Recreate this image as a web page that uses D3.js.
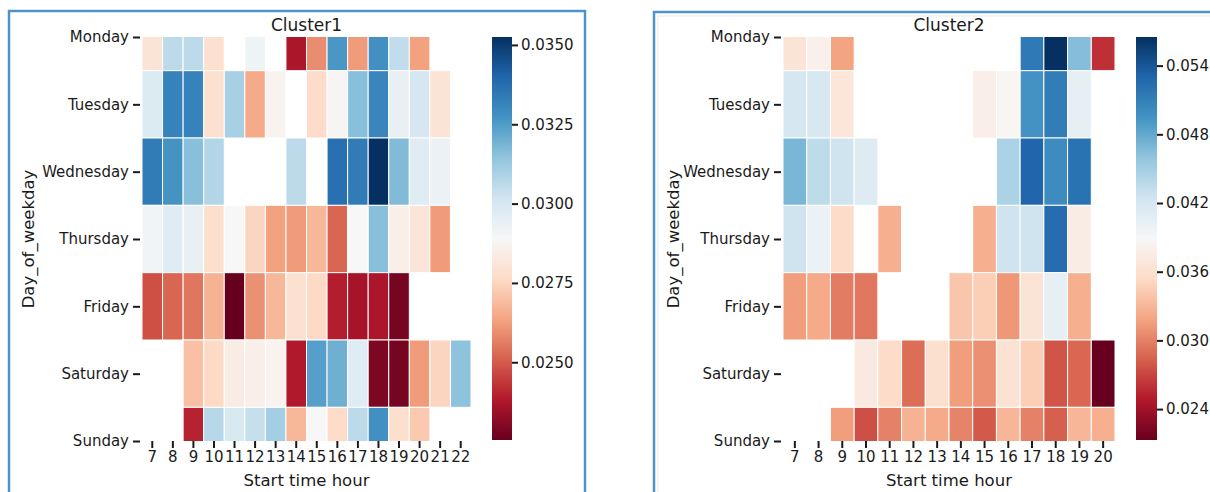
<!DOCTYPE html>
<html>
<head>
<meta charset="utf-8">
<script src="https://cdn.jsdelivr.net/npm/d3@7"></script>
<style>
  body { margin: 0; background: #fff; }
  text { font-family: "DejaVu Sans", sans-serif; fill: #1a1a1a; }
</style>
</head>
<body>
<script>
// heatmap data. null = no trips in that slot
var days = ["Monday", "Tuesday", "Wednesday", "Thursday", "Friday", "Saturday", "Sunday"];

var hours1 = [7, 8, 9, 10, 11, 12, 13, 14, 15, 16, 17, 18, 19, 20, 21, 22];
var cluster1Values = [
  [0.0280, 0.0306, 0.0306, 0.0279, null, 0.0292, null, 0.0237, 0.0259, 0.0326, 0.0262, 0.0328, 0.0305, 0.0263, null, null],
  [0.0298, 0.0332, 0.0332, 0.0279, 0.0310, 0.0265, 0.0287, null, 0.0277, 0.0288, 0.0316, 0.0331, 0.0294, 0.0300, 0.0280, null],
  [0.0334, 0.0327, 0.0316, 0.0308, null, null, null, 0.0306, null, 0.0337, 0.0334, 0.03525, 0.0317, 0.0297, 0.0293, null],
  [0.0291, 0.0297, 0.0294, 0.0278, 0.0289, 0.0275, 0.0263, 0.0262, 0.0268, 0.0252, 0.0289, 0.0316, 0.0285, 0.0281, 0.0262, null],
  [0.0248, 0.0252, 0.0255, 0.0267, 0.02255, 0.0260, 0.0268, 0.0279, 0.0276, 0.0239, 0.0236, 0.0237, 0.0228, null, null, null],
  [null, null, 0.0270, 0.0276, 0.0284, 0.0285, 0.0287, 0.0238, 0.0324, 0.0320, 0.0297, 0.0229, 0.0228, 0.0262, 0.0275, 0.0315],
  [null, null, 0.0240, 0.0307, 0.0299, 0.0304, 0.0311, 0.0268, 0.0289, 0.0277, 0.0306, 0.0328, 0.0278, 0.0272, null, null]
];
var cluster1Ticks = [0.0250, 0.0275, 0.0300, 0.0325, 0.0350];

var hours2 = [7, 8, 9, 10, 11, 12, 13, 14, 15, 16, 17, 18, 19, 20];
var cluster2Values = [
  [0.0365, 0.0380, 0.0318, null, null, null, null, null, null, null, 0.0515, 0.0565, 0.0465, 0.0260],
  [0.0420, 0.0418, 0.0367, null, null, null, null, null, 0.0378, 0.0386, 0.0495, 0.0512, 0.0405, null],
  [0.0470, 0.0435, 0.0425, 0.0412, null, null, null, null, null, 0.0445, 0.0530, 0.0500, 0.0520, null],
  [0.0425, 0.0400, 0.0355, null, 0.0325, null, null, null, 0.0325, 0.0425, 0.0425, 0.0525, 0.0375, null],
  [0.0315, 0.0322, 0.0298, 0.0295, null, null, null, 0.0340, 0.0345, 0.0312, 0.0365, 0.0405, 0.0325, null],
  [null, null, null, 0.0372, 0.0355, 0.0290, 0.0360, 0.0315, 0.0308, 0.0362, 0.0345, 0.0278, 0.0287, 0.0213],
  [null, null, 0.0315, 0.0275, 0.0300, 0.0328, 0.0322, 0.0302, 0.0280, 0.0330, 0.0300, 0.0283, 0.0330, 0.0325]
];
var cluster2Ticks = [0.024, 0.030, 0.036, 0.042, 0.048, 0.054];

// matplotlib's RdBu is piecewise linear between the colorbrewer stops
// (d3.interpolateRdBu smooths them, which looks paler)
var rdbu = ["#67001f", "#b2182b", "#d6604d", "#f4a582", "#fddbc7", "#f7f7f7",
            "#d1e5f0", "#92c5de", "#4393c3", "#2166ac", "#053061"];
var rdbuT = d3.scaleLinear()
    .domain(d3.range(rdbu.length).map(function(i) { return i / (rdbu.length - 1); }))
    .range(rdbu)
    .interpolate(d3.interpolateRgb);

var svg = d3.select("body").append("svg")
    .attr("width", 1210)
    .attr("height", 492);

// the screenshot frames around each figure
svg.append("rect")
    .attr("x", 9).attr("y", 11).attr("width", 576).attr("height", 500)
    .attr("fill", "none").attr("stroke", "#4f92cc").attr("stroke-width", 2.5);
svg.append("rect")
    .attr("x", 654).attr("y", 12).attr("width", 600).attr("height", 500)
    .attr("fill", "none").attr("stroke", "#4f92cc").attr("stroke-width", 2.5);
svg.append("rect")
    .attr("x", 658).attr("y", 16).attr("width", 600).attr("height", 500)
    .attr("fill", "none").attr("stroke", "#e4ecf3").attr("stroke-width", 1);

drawPanel({
  id: "c1", title: "Cluster1", hours: hours1, values: cluster1Values,
  ticks: cluster1Ticks, format: d3.format(".4f"),
  left: 142, right: 471, top: 37, bottom: 441,
  cbX: 492, cbW: 20, yLabelX: 28
});

drawPanel({
  id: "c2", title: "Cluster2", hours: hours2, values: cluster2Values,
  ticks: cluster2Ticks, format: d3.format(".3f"),
  left: 783, right: 1115, top: 37, bottom: 441,
  cbX: 1136, cbW: 21, yLabelX: 673
});

function drawPanel(p) {
  var cells = [];
  var all = [];
  p.values.forEach(function(row, i) {
    row.forEach(function(v, j) {
      if (v !== null) {
        cells.push({day: days[i], hour: p.hours[j], value: v});
        all.push(v);
      }
    });
  });
  var extent = d3.extent(all);

  var x = d3.scaleBand().domain(p.hours).range([p.left, p.right]);
  // first and last rows are cut in half in the original, so rows sit on points
  var y = d3.scalePoint().domain(days).range([p.top, p.bottom]);
  var rowH = y.step();

  var color = d3.scaleLinear().domain(extent).range([0, 1]);

  svg.append("clipPath").attr("id", "clip-" + p.id)
    .append("rect")
      .attr("x", p.left).attr("y", p.top)
      .attr("width", p.right - p.left).attr("height", p.bottom - p.top);

  svg.append("g")
      .attr("clip-path", "url(#clip-" + p.id + ")")
    .selectAll("rect")
    .data(cells)
    .enter().append("rect")
      .attr("x", function(d) { return x(d.hour); })
      .attr("y", function(d) { return y(d.day) - rowH / 2; })
      .attr("width", x.bandwidth())
      .attr("height", rowH)
      .attr("fill", function(d) { return rdbuT(color(d.value)); })
      .attr("stroke", "#fff")
      .attr("stroke-width", 1);

  // axes
  var xAxis = svg.append("g")
      .attr("transform", "translate(0," + p.bottom + ")")
      .call(d3.axisBottom(x).tickSize(7).tickPadding(3));
  var yAxis = svg.append("g")
      .attr("transform", "translate(" + (p.left - 2) + ",0)")
      .call(d3.axisLeft(y).tickSize(7).tickPadding(4));
  [xAxis, yAxis].forEach(function(a) {
    a.select(".domain").remove();
    a.selectAll(".tick line").attr("stroke", "#1a1a1a").attr("stroke-width", 2);
    a.selectAll(".tick text").style("font-size", "15px").attr("fill", "#1a1a1a");
  });

  svg.append("text")
      .attr("x", (p.left + p.right) / 2).attr("y", 31)
      .attr("text-anchor", "middle")
      .style("font-size", "17px")
      .text(p.title);

  svg.append("text")
      .attr("x", (p.left + p.right) / 2).attr("y", 486)
      .attr("text-anchor", "middle")
      .style("font-size", "16.5px")
      .text("Start time hour");

  svg.append("text")
      .attr("transform", "translate(" + p.yLabelX + "," + ((p.top + p.bottom) / 2) + ") rotate(-90)")
      .attr("dy", "0.35em")
      .attr("text-anchor", "middle")
      .style("font-size", "16.5px")
      .text("Day_of_weekday");

  // colorbar
  var cbTop = 37, cbBottom = 440;
  var gradId = "grad-" + p.id;
  var grad = svg.append("defs").append("linearGradient")
      .attr("id", gradId)
      .attr("x1", 0).attr("y1", 1).attr("x2", 0).attr("y2", 0);
  grad.selectAll("stop")
    .data(d3.range(0, 1.0001, 0.1))
    .enter().append("stop")
      .attr("offset", function(t) { return t; })
      .attr("stop-color", function(t) { return rdbuT(t); });

  svg.append("rect")
      .attr("x", p.cbX).attr("y", cbTop)
      .attr("width", p.cbW).attr("height", cbBottom - cbTop)
      .attr("fill", "url(#" + gradId + ")");

  var cbScale = d3.scaleLinear().domain(extent).range([cbBottom, cbTop]);
  var cbAxis = svg.append("g")
      .attr("transform", "translate(" + (p.cbX + p.cbW) + ",0)")
      .call(d3.axisRight(cbScale).tickValues(p.ticks).tickFormat(p.format).tickSize(6).tickPadding(3));
  cbAxis.select(".domain").remove();
  cbAxis.selectAll(".tick line").attr("stroke", "#1a1a1a").attr("stroke-width", 2);
  cbAxis.selectAll(".tick text").style("font-size", "15px").attr("fill", "#1a1a1a");
}
</script>
</body>
</html>
